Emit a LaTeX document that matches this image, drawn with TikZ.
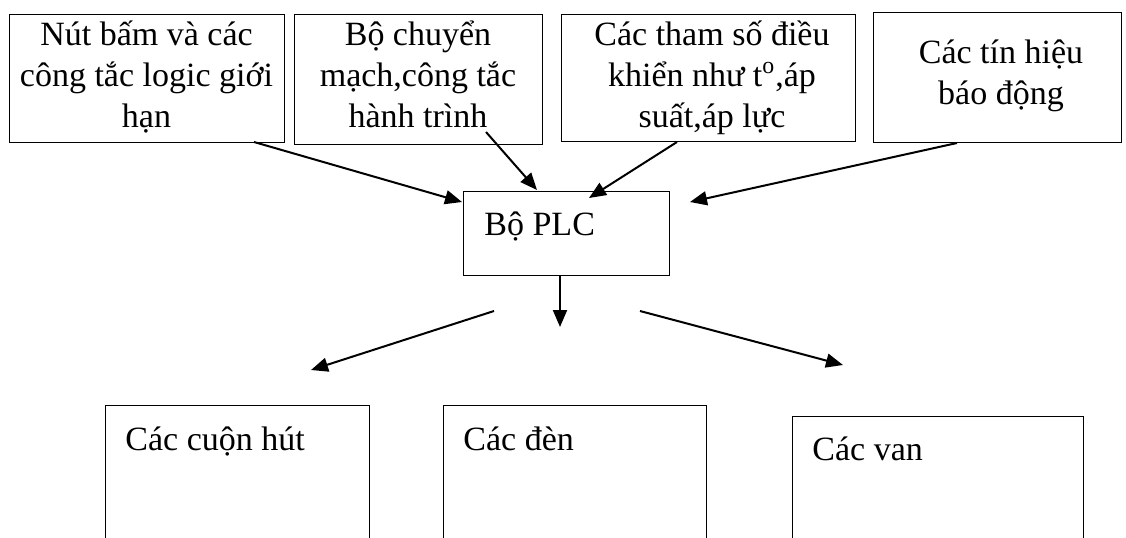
\documentclass[tikz,border=0pt]{standalone}
\usepackage{fontspec}
\setmainfont{Liberation Serif}
\usetikzlibrary{arrows.meta}

\tikzset{
  box/.style={draw, line width=0.6pt, inner sep=0pt, anchor=north west},
  txt/.style={inner sep=0pt, anchor=base, font=\fontsize{17}{20.5}\selectfont},
  ltxt/.style={inner sep=0pt, anchor=base west, font=\fontsize{17}{20.5}\selectfont},
  arr/.style={-{Triangle[length=8.5pt,width=7pt]}, line width=1pt}
}

\begin{document}
\begin{tikzpicture}[x=0.5pt, y=-0.5pt]
\useasboundingbox (0,0) rectangle (1126,537);
\clip (0,0) rectangle (1126,537);

% Input boxes (top row)
\node[box, minimum width=137.5pt, minimum height=64pt] (nut) at (9,14) {};
\node[txt] (nuttxt) at (146.5,45) {\parbox[t]{160pt}{\centering Nút bấm và các\\công tắc logic giới\\hạn}};
\node[box, minimum width=124pt, minimum height=65pt] (chuyen) at (294,14) {};
\node[txt] (chuyentxt) at (418,45) {\parbox[t]{160pt}{\centering Bộ chuyển\\mạch,công tắc\\hành trình}};
\node[box, minimum width=147pt, minimum height=63.5pt] (thamso) at (561,14) {};
\node[txt] (thamsotxt) at (712,45) {\parbox[t]{160pt}{\centering Các tham số điều\\khiển như t\textsuperscript{o},áp\\suất,áp lực}};
\node[box, minimum width=124pt, minimum height=65pt] (baodong) at (873,12) {};
\node[txt] (baodongtxt) at (1001,63) {\parbox[t]{160pt}{\centering Các tín hiệu\\báo động}};

% The PLC
\node[box, minimum width=103pt, minimum height=42pt] (plc) at (463,191) {};
\node[ltxt] (plctxt) at (484,235) {Bộ PLC};

% Output boxes (bottom row)
\node[box, minimum width=132pt, minimum height=77.5pt] (cuon) at (105,405) {};
\node[ltxt] (cuontxt) at (125,450) {Các cuộn hút};
\node[box, minimum width=131.5pt, minimum height=77.5pt] (den) at (443,405) {};
\node[ltxt] (dentxt) at (463,450) {Các đèn};
\node[box, minimum width=145.5pt, minimum height=72pt] (van) at (792,416) {};
\node[ltxt] (vantxt) at (812,460) {Các van};

% Arrow ends
\coordinate (a1s) at (254,142);
\coordinate (a1e) at (462,202);
\coordinate (a2s) at (486,132);
\coordinate (a2e) at (537,190);
\coordinate (a3s) at (677,142);
\coordinate (a3e) at (589,198);
\coordinate (a4s) at (957,143);
\coordinate (a4e) at (690,202);
\coordinate (d1s) at (560,275);
\coordinate (d1e) at (560,327);
\coordinate (l1s) at (494,311);
\coordinate (l1e) at (311,370);
\coordinate (r1s) at (640,311);
\coordinate (r1e) at (843,365);

% Inputs into the PLC
\draw[arr] (a1s) -- (a1e);
\draw[arr] (a2s) -- (a2e);
\draw[arr] (a3s) -- (a3e);
\draw[arr] (a4s) -- (a4e);

% Outputs from the PLC
\draw[arr] (d1s) -- (d1e);
\draw[arr] (l1s) -- (l1e);
\draw[arr] (r1s) -- (r1e);
\end{tikzpicture}
\end{document}
